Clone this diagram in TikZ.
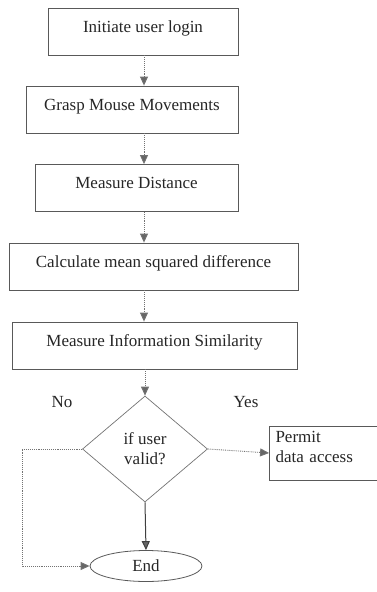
\documentclass[tikz,border=0pt]{standalone}
\usepackage{fontspec}
\setmainfont{Liberation Serif}
\usetikzlibrary{shapes.geometric,arrows.meta}

\begin{document}
\begin{tikzpicture}[x=1pt,y=-1pt,
    font=\fontsize{17}{20}\selectfont,
    stepbox/.style={draw=black!65,line width=0.8pt,minimum height=47pt,inner sep=0pt,text=black!85,text height=12pt,text depth=11pt},
    decide/.style={diamond,draw=black!55,line width=0.7pt,minimum width=125pt,minimum height=106pt,inner sep=0pt,text=black!85,align=center,aspect=1.18},
    endnode/.style={ellipse,draw=black!65,line width=0.8pt,minimum width=112pt,minimum height=31pt,inner sep=0pt,text=black!85},
    flow/.style={draw=black!55,line width=0.9pt,densely dotted,-{Triangle[width=8pt,length=9pt,fill=black!60]}},
    solidflow/.style={draw=black!75,line width=1pt,-{Triangle[width=8pt,length=9pt,fill=black!60]}}]
  \useasboundingbox (0,0) rectangle (377,592);
  %\draw[red] (0,0) rectangle (377,592);
  \coordinate (spine) at (144,0);
  \node[stepbox,minimum width=190pt] (login)   at (143,31.5)  {Initiate user login};
  \node[stepbox,minimum width=212pt] (grasp)   at (132,109.5) {Grasp Mouse Movements};
  \node[stepbox,minimum width=203pt] (dist)    at (136.5,188) {Measure Distance};
  \node[stepbox,minimum width=289pt] (msd)     at (153.5,266.5) {Calculate mean squared difference};
  \node[stepbox,minimum width=285pt] (simil)   at (154.5,345.5) {Measure Information Similarity};
  \node[decide] (valid) at (145,449) {if user\\valid?};
  \node[stepbox,minimum width=106pt,minimum height=54pt,align=left,text width=96pt,inner xsep=6pt,text height=,text depth=32pt] (permit) at (323.5,453)
    {Permit\\ data access};
  \node[endnode] (end) at (146,566) {End};
  \node[text=black!85] (no)  at (62,402)  {No};
  \node[text=black!85] (yes) at (246,402) {Yes};
  \coordinate (loop) at (22,0);
  % main line
  \draw[flow] (login.south -| spine) -- (grasp.north -| spine);
  \draw[flow] (grasp.south -| spine) -- (dist.north -| spine);
  \draw[flow] (dist.south -| spine) -- (msd.north -| spine);
  \draw[flow] (msd.south -| spine) -- (simil.north -| spine);
  \draw[flow] (simil.south -| valid) -- (valid.north);
  \draw[flow] (valid.east) -- (permit.west);
  \draw[solidflow] (valid.south) -- (end.north);
  \draw[flow] (valid.west) -- (valid.west -| loop) |- (end.west);
\end{tikzpicture}
\end{document}
